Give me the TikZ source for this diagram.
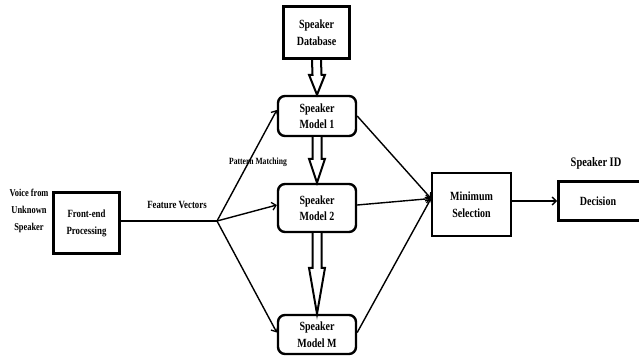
\documentclass[tikz,border=0pt]{standalone}
\usepackage{fontspec}
\setmainfont[FakeStretch=0.8]{Liberation Serif}
\usetikzlibrary{calc,arrows.meta}
\tikzset{
  boxtext/.style={font=\bfseries\fontsize{12.5}{16.5}\selectfont, align=center},
  thickbox/.style={draw, line width=3pt, inner sep=0pt, boxtext},
  modelbox/.style={draw, line width=2.4pt, rounded corners=7pt, inner sep=0pt, boxtext, minimum width=78pt},
  selbox/.style={draw, line width=2pt, inner sep=0pt, boxtext},
  lbl/.style={font=\bfseries\fontsize{10.5}{17}\selectfont, align=center, inner sep=0pt},
  conn/.style={line width=1.4pt, -{Straight Barb[length=4pt,width=8pt,line width=1.3pt]}},
  plainline/.style={line width=1.4pt},
  fatarrow/.style={draw, line width=2pt, fill=white, line join=miter}
}
\newcommand\fatarr[3]{%
  \draw[fatarrow] ($(#1)+(-4.5,0)$) -- ($(#2)+(-4.5,-#3)$) -- ($(#2)+(-8,-#3)$) -- (#2)
    -- ($(#2)+(8,-#3)$) -- ($(#2)+(4.5,-#3)$) -- ($(#1)+(4.5,0)$);}
\begin{document}
\begin{tikzpicture}[x=1pt, y=-1pt]
\useasboundingbox (0,0) rectangle (639,362);
\clip (0,0) rectangle (639,362);
% boxes
\node[thickbox, minimum width=66pt, minimum height=52pt] (db) at (316.5,32.5) {Speaker\\Database};
\node[modelbox, minimum height=40pt] (m1) at (317,116) {Speaker\\Model 1};
\node[modelbox, minimum height=48pt] (m2) at (317,208) {Speaker\\Model 2};
\node[modelbox, minimum height=39pt] (m3) at (317,334.5) {Speaker\\Model M};
\node[thickbox, minimum width=66pt, minimum height=61pt, font=\bfseries\fontsize{11}{17}\selectfont] (fe) at (86.5,223) {Front-end\\Processing};
\node[selbox, minimum width=79pt, minimum height=63pt] (ms) at (471.5,204.5) {Minimum\\Selection};
\node[thickbox, minimum width=85pt, minimum height=39pt] (dec) at (601,201) {\hspace*{-6pt}Decision};
% labels
\node[lbl] (voice) at (29,211) {Voice from\\Unknown\\Speaker};
\node[lbl, font=\bfseries\fontsize{11}{13}\selectfont] (fv) at (177,205) {Feature Vectors};
\node[lbl, font=\bfseries\fontsize{9.5}{11}\selectfont] (pm) at (258,162) {Pattern Matching};
\node[lbl, font=\bfseries\fontsize{13}{15}\selectfont] (sid) at (596,163) {Speaker ID};
% fan
\coordinate (fan) at (217,221);
\coordinate (msin) at ($(ms.west)+(0,-6)$);
\draw[plainline] (fe.east |- fan) -- (fan);
\draw[conn] (fan) -- ($(m1.west)+(0,-6)$);
\draw[conn] (fan) -- ($(m2.west)+(0,-3)$);
\draw[conn] (fan) -- ($(m3.west)+(0,-2)$);
\draw[conn] (m1.east) -- (msin);
\draw[conn] ($(m2.east)+(0,-3)$) -- (msin);
\draw[conn] ($(m3.east)+(0,-2)$) -- (msin);
\draw[conn] (ms.east |- dec.west) -- (dec.west);
% fat arrows
\fatarr{db.south}{m1.north}{20}
\fatarr{m1.south}{m2.north}{24}
\fatarr{m2.south}{m3.north}{46}
\end{tikzpicture}
\end{document}
